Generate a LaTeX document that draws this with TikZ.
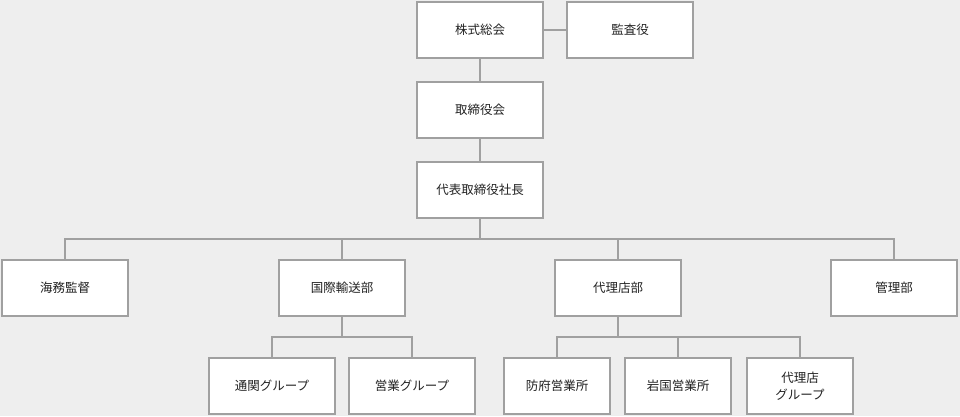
\documentclass[tikz,border=0pt]{standalone}
\usepackage{fontspec}
\setmainfont{Noto Sans CJK JP}
\definecolor{bg}{HTML}{EEEEEE}
\definecolor{ln}{HTML}{A0A0A0}
\definecolor{tx}{HTML}{222222}
\begin{document}
\begin{tikzpicture}[x=1pt,y=-1pt,
  box/.style={draw=ln,line width=2pt,fill=white,minimum width=126pt,minimum height=56pt,inner sep=0pt,align=center,text=tx,font=\fontsize{12.5}{17}\selectfont},
  sbox/.style={box,minimum width=106pt},
  conn/.style={draw=ln,line width=2pt}]
\fill[bg] (0,0) rectangle (960,416);
\useasboundingbox (0,0) rectangle (960,416);
\node[box] (soukai) at (480,30) {株式総会};
\node[box] (kansa) at (630,30) {監査役};
\node[box] (torishimari) at (480,110) {取締役会};
\node[box] (shachou) at (480,190) {代表取締役社長};
\node[box] (kaimu) at (65,288) {海務監督};
\node[box] (kokusai) at (342,288) {国際輸送部};
\node[box] (dairi) at (618,288) {代理店部};
\node[box] (kanri) at (894,288) {管理部};
\node[box] (tsukan) at (272,386) {通関グループ};
\node[box] (eigyou) at (412,386) {営業グループ};
\node[sbox] (hofu) at (557,386) {防府営業所};
\node[sbox] (iwakuni) at (678,386) {岩国営業所};
\node[sbox] (dairig) at (800,386) {代理店\\グループ};
\coordinate (bus) at (480,239);
\coordinate (bus2) at (342,337);
\coordinate (bus3) at (618,337);
\begin{scope}[on background layer/.try]
\end{scope}
\draw[conn] (soukai.east) -- (kansa.west);
\draw[conn] (soukai.south) -- (torishimari.north);
\draw[conn] (torishimari.south) -- (shachou.north);
\draw[conn] (shachou.south) -- (bus);
\draw[conn] (kaimu.north) |- (bus) -| (kanri.north);
\draw[conn] (kokusai.north) -- (kokusai.north |- bus);
\draw[conn] (dairi.north) -- (dairi.north |- bus);
\draw[conn] (kokusai.south) -- (bus2);
\draw[conn] (tsukan.north) |- (bus2) -| (eigyou.north);
\draw[conn] (dairi.south) -- (bus3);
\draw[conn] (hofu.north) |- (bus3) -| (dairig.north);
\draw[conn] (iwakuni.north) -- (iwakuni.north |- bus3);
\end{tikzpicture}
\end{document}
